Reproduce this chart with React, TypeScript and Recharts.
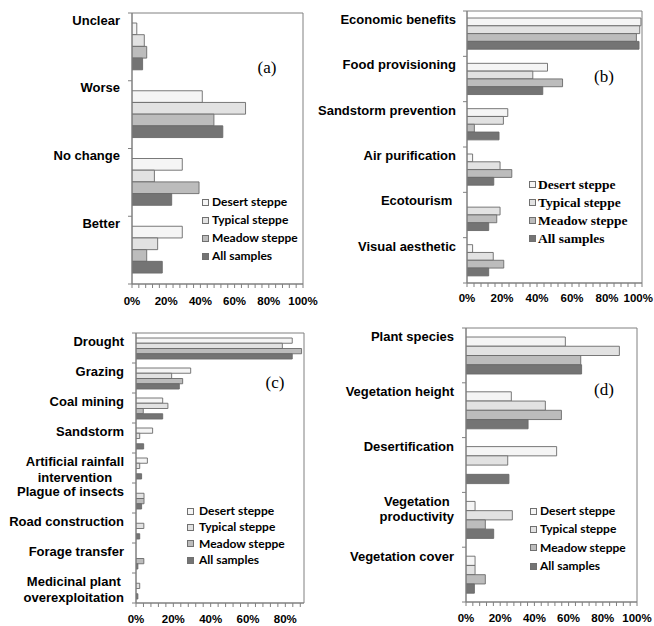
import React from 'react';
import { BarChart, Bar, XAxis, YAxis, ReferenceArea, Legend } from 'recharts';

// ---------- series ----------
const SERIES_NAMES = ['Desert steppe', 'Typical steppe', 'Meadow steppe', 'All samples'];
const SERIES_KEYS = ['desert', 'typical', 'meadow', 'all'];
const SERIES_FILLS = ['#f5f5f5', '#e2e2e2', '#bcbcbc', '#747474'];

// ---------- panel (a) ----------
const A_CATEGORIES = ['Unclear', 'Worse', 'No change', 'Better'];
const A_DESERT = [2.8, 41.1, 29.4, 29.4];
const A_TYPICAL = [7.2, 66.4, 13.1, 15];
const A_MEADOW = [8.6, 47.9, 39.2, 8.6];
const A_ALL = [6.2, 53.1, 23.2, 17.7];

// ---------- panel (b) ----------
const B_CATEGORIES = ['Economic benefits', 'Food provisioning', 'Sandstorm prevention', 'Air purification', 'Ecotourism ', 'Visual aesthetic'];
const B_DESERT = [99.4, 46, 23.3, 3.2, 0, 3.2];
const B_TYPICAL = [98.7, 37.6, 20.8, 18.9, 18.9, 15];
const B_MEADOW = [96.8, 54.6, 4.2, 25.6, 17, 21];
const B_ALL = [98.3, 43.3, 18.3, 15.3, 12.4, 12.4];

// ---------- panel (c) ----------
const C_CATEGORIES = ['Drought', 'Grazing', 'Coal mining', 'Sandstorm', 'Artificial rainfall\nintervention', 'Plague of insects', 'Road construction', 'Forage transfer', 'Medicinal plant\noverexploitation'];
const C_DESERT = [83.7, 29.3, 14.3, 8.9, 6.1, 0, 0, 0, 0];
const C_TYPICAL = [78.4, 19.1, 17.1, 2, 2, 4.3, 4.2, 0, 2];
const C_MEADOW = [88.7, 25, 3.9, 0, 0, 4.3, 0, 4.2, 0];
const C_ALL = [83.7, 23.2, 14.3, 4.1, 3, 3, 2, 1, 1];

// ---------- panel (d) ----------
const D_CATEGORIES = ['Plant species', 'Vegetation height', 'Desertification', 'Vegetation\nproductivity', 'Vegetation cover'];
const D_DESERT = [58.1, 26.5, 53, 5.3, 5.3];
const D_TYPICAL = [89.7, 46.4, 24.4, 27.1, 5.3];
const D_MEADOW = [67.1, 55.8, 0, 11.3, 11.3];
const D_ALL = [67.6, 36.3, 25.1, 16.2, 4.9];

// ---------- tick values ----------
const TICKS_100 = [0, 4, 8, 12, 16, 20, 24, 28, 32, 36, 40, 44, 48, 52, 56, 60, 64, 68, 72, 76, 80, 84, 88, 92, 96, 100];
const TICKS_90 = [0, 4, 8, 12, 16, 20, 24, 28, 32, 36, 40, 44, 48, 52, 56, 60, 64, 68, 72, 76, 80, 84, 88];
const MAJOR_TICKS = [0, 20, 40, 60, 80, 100];

const AXIS_COLOR = '#808080';
const SANS = "'Liberation Sans', Arial, Helvetica, sans-serif";
const SERIF = "'Liberation Serif', 'Times New Roman', serif";
const CAT_FONT_SIZE = 13;
const X_FONT_SIZE = 11.5;

let measureCtx: any = null;
function measure(text: string, font: string) {
  if (!measureCtx) measureCtx = document.createElement('canvas').getContext('2d');
  measureCtx.font = font;
  return measureCtx.measureText(text).width;
}

type PanelCfg = {
  left: number; top: number; width: number; height: number;
  plotLeft: number; plotTop: number; plotRight: number; plotBottom: number;
  categories: string[]; values: number[][]; max: number; ticks: number[];
  barSize: number; tickMargin: number; labelGap: number; labelOffset: number;
  legend: { left: number; top: number; rowH: number; gap: number; font: string; size: number };
  letter: string; letterX: number; letterY: number;
};

const PANELS: PanelCfg[] = [
  {
    left: 0, top: 0, width: 327, height: 313,
    plotLeft: 132, plotTop: 13, plotRight: 303, plotBottom: 284,
    categories: A_CATEGORIES, values: [A_DESERT, A_TYPICAL, A_MEADOW, A_ALL], max: 100, ticks: TICKS_100,
    barSize: 11.7, tickMargin: 9, labelGap: 12, labelOffset: 7,
    legend: { left: 202, top: 193, rowH: 18, gap: 3, font: "Lato, 'Liberation Sans', sans-serif", size: 12 },
    letter: '(a)', letterX: 267, letterY: 67,
  },
  {
    left: 327, top: 0, width: 327, height: 313,
    plotLeft: 140, plotTop: 11, plotRight: 315, plotBottom: 283,
    categories: B_CATEGORIES, values: [B_DESERT, B_TYPICAL, B_MEADOW, B_ALL], max: 100, ticks: TICKS_100,
    barSize: 7.8, tickMargin: 7, labelGap: 11, labelOffset: 8.5,
    legend: { left: 202, top: 176, rowH: 17.8, gap: 2, font: SERIF, size: 13.5 },
    letter: '(b)', letterX: 277, letterY: 76,
  },
  {
    left: 0, top: 313, width: 327, height: 313,
    plotLeft: 136, plotTop: 20, plotRight: 304, plotBottom: 290,
    categories: C_CATEGORIES, values: [C_DESERT, C_TYPICAL, C_MEADOW, C_ALL], max: 90, ticks: TICKS_90,
    barSize: 5.25, tickMargin: 8, labelGap: 12, labelOffset: 8.8,
    legend: { left: 187, top: 190, rowH: 16.3, gap: 5, font: "Lato, 'Liberation Sans', sans-serif", size: 12 },
    letter: '(c)', letterX: 275, letterY: 69,
  },
  {
    left: 327, top: 313, width: 327, height: 313,
    plotLeft: 139, plotTop: 15, plotRight: 310, plotBottom: 289,
    categories: D_CATEGORIES, values: [D_DESERT, D_TYPICAL, D_MEADOW, D_ALL], max: 100, ticks: TICKS_100,
    barSize: 9.25, tickMargin: 8, labelGap: 12, labelOffset: 8.8,
    legend: { left: 203, top: 189, rowH: 18.3, gap: 3, font: "Lato, 'Liberation Sans', sans-serif", size: 12 },
    letter: '(d)', letterX: 277, letterY: 76,
  },
];

function makeXTick(cfg: PanelCfg) {
  const font = `bold ${X_FONT_SIZE}px ${SANS}`;
  return (props: any) => {
    const { x, y, payload } = props;
    if (!MAJOR_TICKS.includes(payload.value)) return <g />;
    const label = `${payload.value}%`;
    const w = measure(label, font);
    const maxRight = cfg.width - 1;
    const cx = Math.min(x, maxRight - w / 2);
    return (
      <text x={cx} y={y} dy="0.71em" textAnchor="middle" fontFamily={SANS} fontWeight={700} fontSize={X_FONT_SIZE} fill="#000">
        {label}
      </text>
    );
  };
}

function makeCatTick(cfg: PanelCfg) {
  const n = cfg.categories.length;
  const band = (cfg.plotBottom - cfg.plotTop) / n;
  const L = cfg.plotLeft;
  const font = `bold ${CAT_FONT_SIZE}px ${SANS}`;
  return (props: any) => {
    const { y, payload, index } = props;
    const bandTop = y - band / 2;
    const lines = String(payload.value).split('\n');
    const rightX = L - cfg.labelGap;
    const multi = lines.length > 1;
    const blockW = multi ? Math.max(...lines.map((l) => measure(l, font))) : 0;
    return (
      <g>
        <line x1={L - 4} x2={L} y1={bandTop} y2={bandTop} stroke={AXIS_COLOR} />
        {index === n - 1 && <line x1={L - 4} x2={L} y1={bandTop + band} y2={bandTop + band} stroke={AXIS_COLOR} />}
        {lines.map((ln, i) => (
          <text
            key={i}
            x={multi ? rightX - blockW / 2 : rightX}
            y={bandTop + cfg.labelOffset + i * 15.5}
            textAnchor={multi ? 'middle' : 'end'}
            dominantBaseline="central"
            fontFamily={SANS}
            fontWeight={700}
            fontSize={CAT_FONT_SIZE}
            fill="#000"
            style={{ whiteSpace: 'pre' }}
          >
            {ln}
          </text>
        ))}
      </g>
    );
  };
}

function makeLegend(cfg: PanelCfg) {
  const lg = cfg.legend;
  return (props: any) => {
    const payload: any[] = (props && props.payload) || [];
    const items = SERIES_NAMES.map((s, i) => {
      const found = payload.find((p: any) => p.value === s);
      return { label: s, color: found && found.color ? found.color : SERIES_FILLS[i] };
    });
    return (
      <div style={{ fontFamily: lg.font, fontSize: lg.size, fontWeight: 700, color: '#000' }}>
        {items.map((it: any, i: number) => (
          <div key={i} style={{ height: lg.rowH, display: 'flex', alignItems: 'center', whiteSpace: 'nowrap' }}>
            <span style={{ width: 7, height: 7, boxSizing: 'border-box', border: '1px solid #707070', background: it.color, marginRight: lg.gap, display: 'inline-block' }} />
            <span style={{ lineHeight: 1 }}>{it.label}</span>
          </div>
        ))}
      </div>
    );
  };
}

function Panel({ cfg }: { cfg: PanelCfg }) {
  const data = cfg.categories.map((name, i) => ({
    name,
    desert: cfg.values[0][i],
    typical: cfg.values[1][i],
    meadow: cfg.values[2][i],
    all: cfg.values[3][i],
  }));
  return (
    <div style={{ position: 'absolute', left: cfg.left, top: cfg.top, width: cfg.width, height: cfg.height }}>
      <BarChart
        width={cfg.width}
        height={cfg.height}
        data={data}
        layout="vertical"
        margin={{ top: cfg.plotTop, right: cfg.width - cfg.plotRight, bottom: 0, left: 0 }}
        barGap={0}
        barSize={cfg.barSize}
      >
        <XAxis
          type="number"
          domain={[0, cfg.max]}
          ticks={cfg.ticks}
          interval={0}
          allowDataOverflow
          height={cfg.height - cfg.plotBottom}
          axisLine={{ stroke: AXIS_COLOR }}
          tickLine={{ stroke: AXIS_COLOR }}
          tickSize={4}
          tickMargin={cfg.tickMargin}
          tick={makeXTick(cfg)}
        />
        <YAxis
          type="category"
          dataKey="name"
          width={cfg.plotLeft}
          interval={0}
          axisLine={{ stroke: AXIS_COLOR }}
          tickLine={false}
          tick={makeCatTick(cfg)}
        />
        {SERIES_KEYS.map((k, i) => (
          <Bar
            key={k}
            dataKey={k}
            name={SERIES_NAMES[i]}
            fill={SERIES_FILLS[i]}
            stroke="#6a6a6a"
            strokeWidth={0.9}
            isAnimationActive={false}
          />
        ))}
        <ReferenceArea x1={0} x2={cfg.max} fill="none" fillOpacity={0} stroke={AXIS_COLOR} strokeWidth={1} ifOverflow="visible" />
        <Legend
          layout="vertical"
          align="center"
          verticalAlign="middle"
          wrapperStyle={{ left: cfg.legend.left, top: cfg.legend.top, width: 'auto', height: 'auto' }}
          content={makeLegend(cfg)}
        />
      </BarChart>
      <div
        style={{
          position: 'absolute',
          left: cfg.letterX,
          top: cfg.letterY,
          transform: 'translate(-50%, -50%)',
          fontFamily: SERIF,
          fontSize: 17,
          lineHeight: 1,
          color: '#000',
          whiteSpace: 'nowrap',
        }}
      >
        {cfg.letter}
      </div>
    </div>
  );
}

export default function App() {
  return (
    <div style={{ position: 'absolute', left: 0, top: 0, width: 654, height: 626, background: '#fff', overflow: 'hidden' }}>
      <style>{'.recharts-surface{overflow:visible}'}</style>
      {PANELS.map((p) => (
        <Panel key={p.letter} cfg={p} />
      ))}
    </div>
  );
}
